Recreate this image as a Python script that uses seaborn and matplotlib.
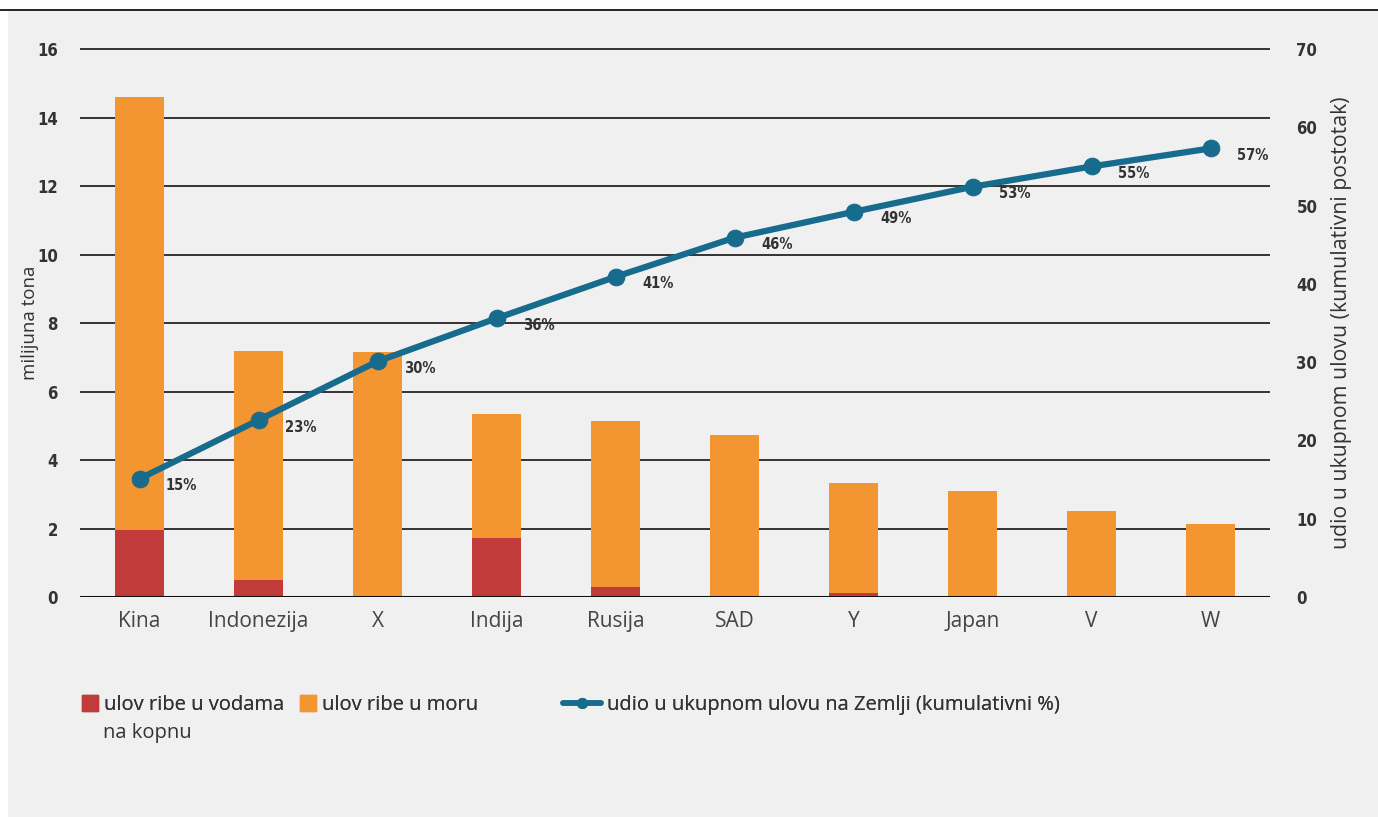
import numpy as np
import pandas as pd
import matplotlib
matplotlib.use("Agg")
import matplotlib.pyplot as plt
import seaborn as sns
from matplotlib.lines import Line2D
from matplotlib.patches import Patch, Rectangle

# Data

countries = ["Kina", "Indonezija", "X", "Indija", "Rusija", "SAD", "Y", "Japan", "V", "W"]
inland = [1.95, 0.5, 0.0, 1.72, 0.29, 0.0, 0.12, 0.0, 0.0, 0.0]
total = [14.6, 7.18, 7.15, 5.34, 5.14, 4.73, 3.33, 3.09, 2.51, 2.13]
cum_pct = [15.1, 22.6, 30.1, 35.6, 40.9, 45.9, 49.2, 52.4, 55.0, 57.3]
pct_labels = ["15%", "23%", "30%", "36%", "41%", "46%", "49%", "53%", "55%", "57%"]

df = pd.DataFrame({"country": countries, "inland": inland, "total": total, "cum": cum_pct})

# Style
sns.set_style("white")
plt.rcParams["font.family"] = ["Open Sans", "DejaVu Sans"]

orange = "#f39531"
red = "#c13b3b"
blue = "#176b8c"
bg = "#f0f0f0"
num_font = dict(family="DejaVu Sans", fontstretch="condensed", fontweight="bold",
                fontsize=12, color="#333333")

fig = plt.figure(figsize=(13.78, 8.17), dpi=100, facecolor=bg)
# white strip on top with a black rule
fig.patches.append(Rectangle((0, 1 - 9 / 817), 1, 9 / 817, transform=fig.transFigure, color="white", zorder=0))
fig.patches.append(Rectangle((0, 0), 7 / 1378, 1 - 9 / 817, transform=fig.transFigure, color="white", zorder=0))
fig.add_artist(Line2D([0, 1], [1 - 9.5 / 817, 1 - 9.5 / 817], transform=fig.transFigure, color="black", lw=1.2))

ax = fig.add_axes([80 / 1378, 1 - 597 / 817, 1190 / 1378, 549 / 817])
ax.set_facecolor(bg)

sns.barplot(data=df, x="country", y="total", color=orange, width=0.42, saturation=1,
            linewidth=0, ax=ax, zorder=3)
sns.barplot(data=df, x="country", y="inland", color=red, width=0.42, saturation=1,
            linewidth=0, ax=ax, zorder=4)

ax.set_xlim(-0.5, 9.5)
ax.set_ylim(0, 16.03)
ax.set_yticks(np.arange(0, 17, 2))
for y in np.arange(2, 17, 2):
    ax.axhline(y, color="#333333", lw=1.4, zorder=1)
ax.axhline(0, color="#111111", lw=2.2, zorder=5)

for s in ax.spines.values():
    s.set_visible(False)
ax.tick_params(axis="y", length=0, pad=16)
ax.tick_params(axis="x", length=0, pad=10, labelsize=15, labelcolor="#444444")
for t in ax.get_yticklabels():
    t.set(**num_font)
ax.set_xlabel("")
ax.set_ylabel("milijuna tona", fontsize=13.5, color="#333333")
ax.yaxis.set_label_coords(-41 / 1190, 0.5)

# Cumulative share
ax2 = ax.twinx()
ax2.set_ylim(0, 70 * 16.03 / 16)
ax2.set_yticks(np.arange(0, 71, 10))
sns.lineplot(x=np.arange(len(countries)), y=df["cum"], ax=ax2, color=blue, lw=4.5,
             marker="o", markersize=12, markeredgecolor=blue, zorder=6)
for i, (v, lab) in enumerate(zip(cum_pct, pct_labels)):
    ax2.annotate(lab, (i, v), xytext=(19, -5), textcoords="offset points",
                 ha="left", va="center", family="DejaVu Sans", fontstretch="condensed",
                 fontweight="bold", fontsize=10.5, color="#333333")
for s in ax2.spines.values():
    s.set_visible(False)
ax2.tick_params(axis="y", length=0, pad=19)
for t in ax2.get_yticklabels():
    t.set(**num_font)
ax2.set_ylabel("udio u ukupnom ulovu (kumulativni postotak)", fontsize=15.3, color="#333333")
ax2.yaxis.set_label_coords(1 + 61 / 1190, 0.5)
ax2.set_xlim(-0.5, 9.5)

# Legend, one entry at a time
legend_items = [
    (Patch(color=red, label="ulov ribe u vodama"), 82, 0.8),
    (Patch(color=orange, label="ulov ribe u moru"), 300, 0.8),
    (Line2D([], [], color=blue, lw=4, marker="o", markersize=7,
            label="udio u ukupnom ulovu na Zemlji (kumulativni %)"), 563, 1.9),
]
for h, x0, hl in legend_items:
    leg = fig.legend(handles=[h], loc="upper left", bbox_to_anchor=(x0 / 1378, 1 - 695 / 817),
                     frameon=False, fontsize=14.5, borderpad=0, borderaxespad=0,
                     handlelength=hl, handleheight=0.8, handletextpad=0.3, labelcolor="#333333")
    fig.add_artist(leg)
fig.text(103 / 1378, 1 - 733 / 817, "na kopnu", fontsize=14.5, color="#333333", va="center", ha="left")

plt.savefig("out.png", dpi=100, facecolor=bg)
